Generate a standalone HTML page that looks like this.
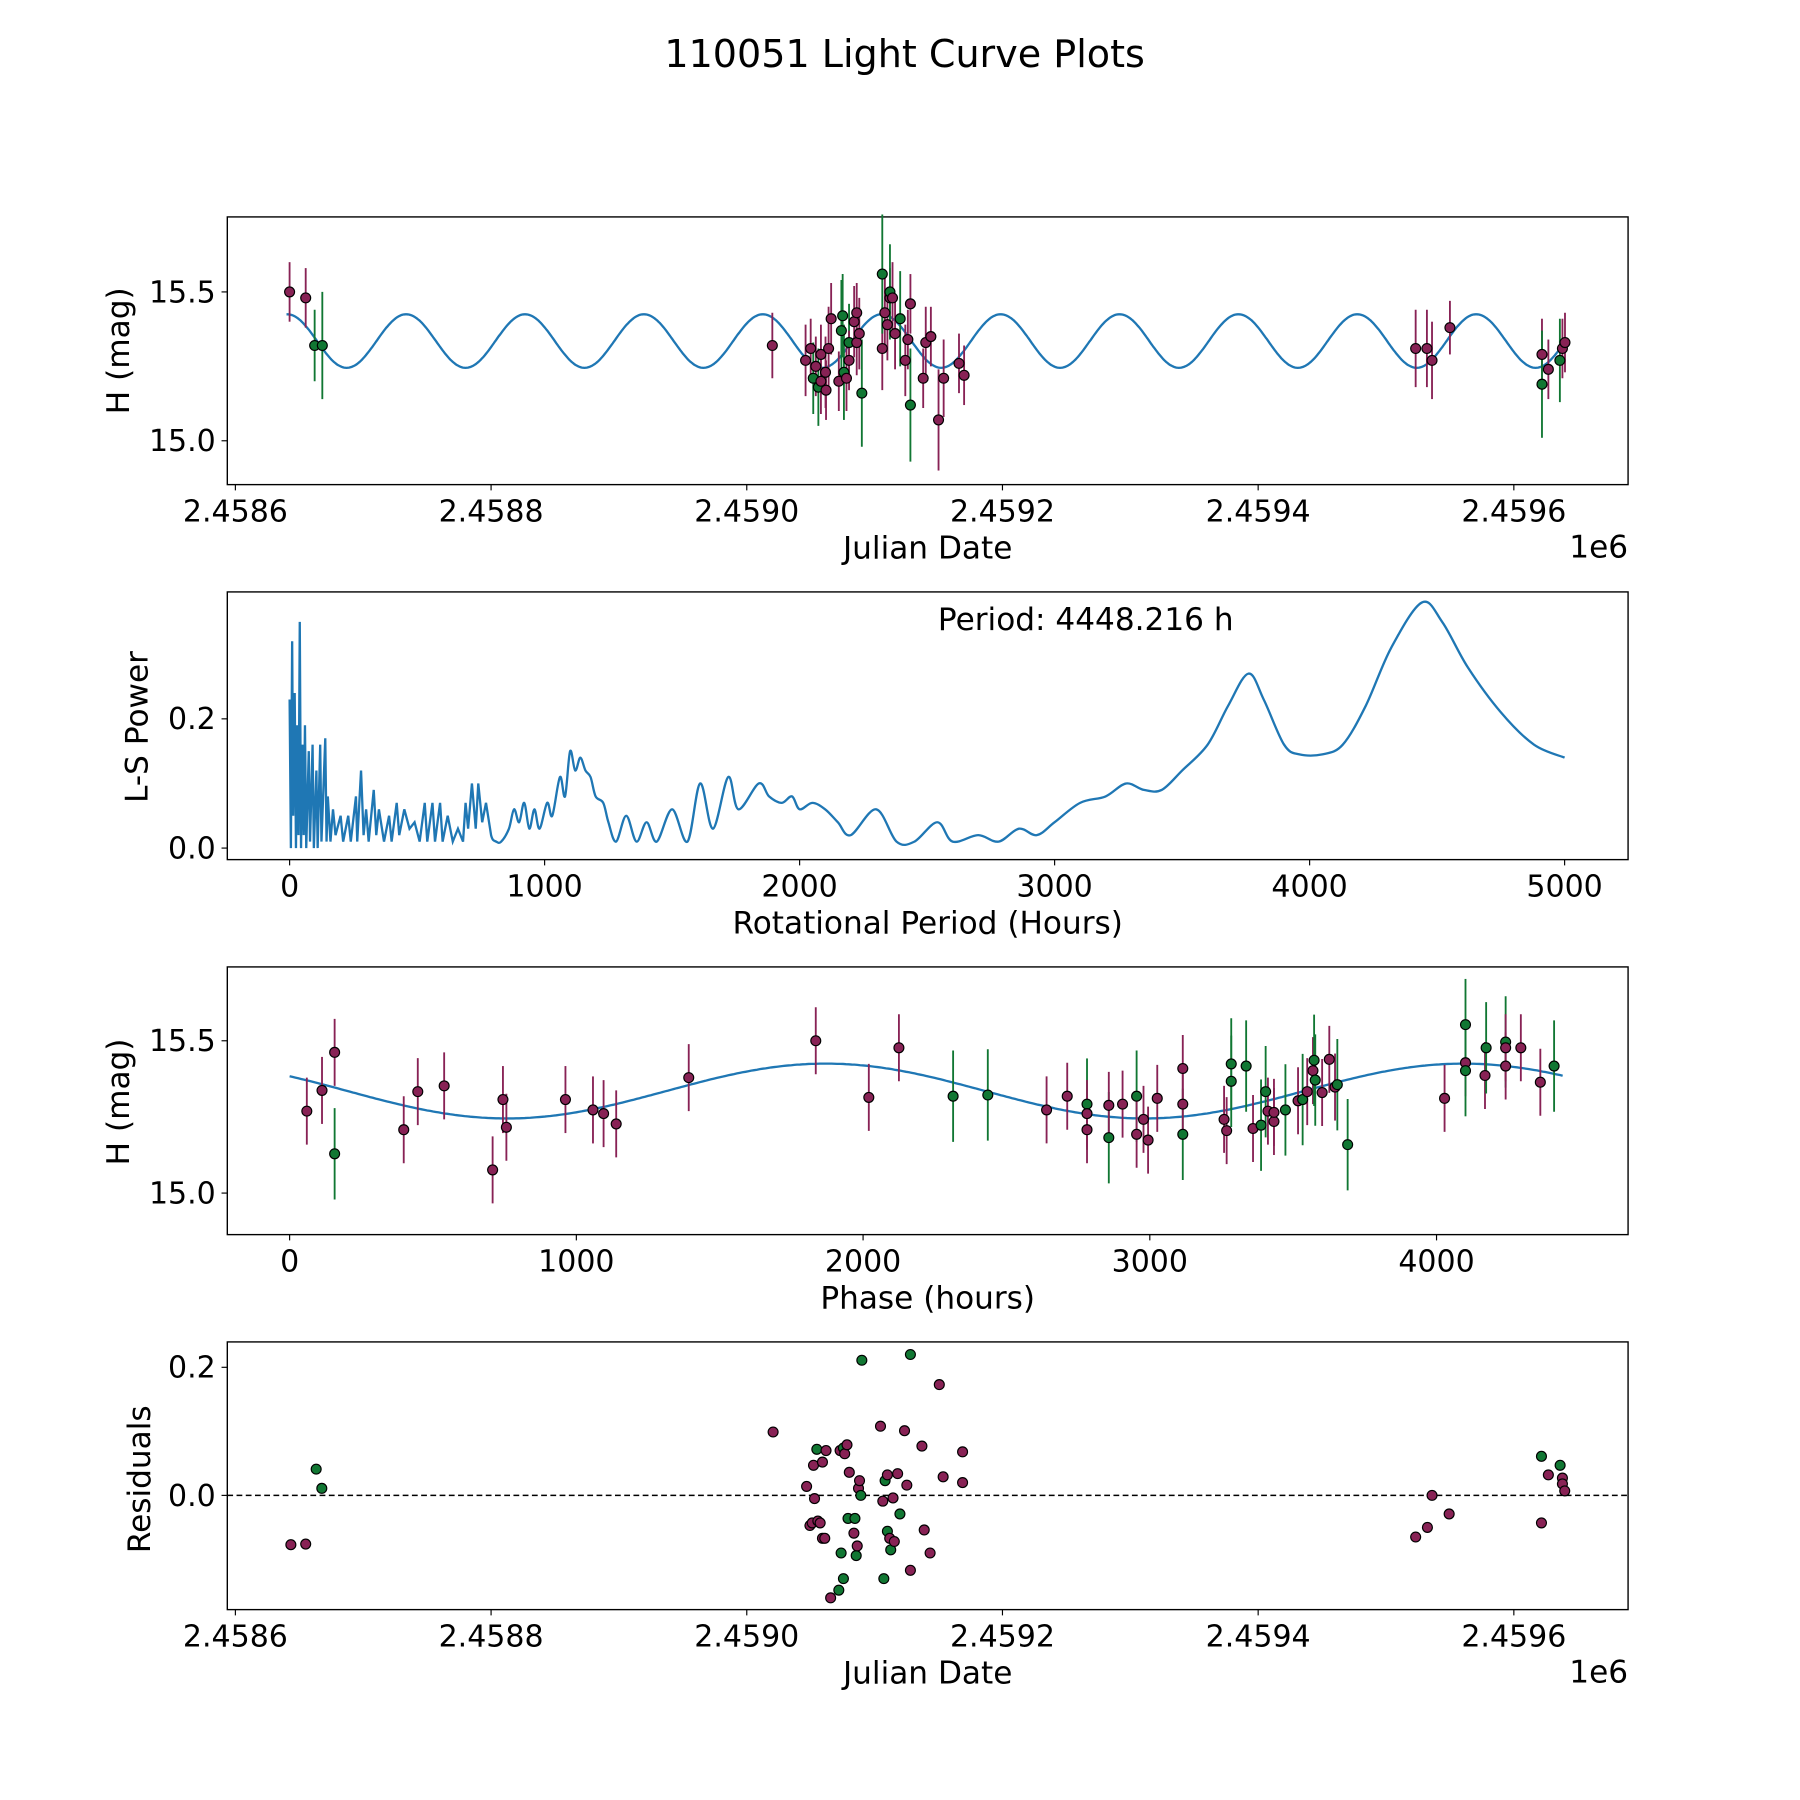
<!DOCTYPE html>
<html><head><meta charset="utf-8"><style>
html,body{margin:0;padding:0;background:#fff;}
svg{display:block;font-family:"DejaVu Sans","Liberation Sans",sans-serif;}
</style></head><body>
<svg id="fig" width="1800" height="1800" viewBox="0 0 1560 1560" xmlns="http://www.w3.org/2000/svg">
<rect width="1560" height="1560" fill="#fff"/>
<text x="784" y="58" font-size="33" text-anchor="middle">110051 Light Curve Plots</text>
<g id="p1"></g><g id="p2"></g><g id="p3"></g><g id="p4"></g>
</svg>
<script>
// ---- Panel 1 / 4 data: days offset from JD 2458600 ----
const lcDay=[42.4,55,62,68,420,446,450,452,454,456,458,458,461.6,462,464,466,472,474,475,476,478,480,480,484,486,486,488,490,506,506,508,510,512,512,514,516,520,524,526,528,528,538,540,544,550,554,566,570,923.2,932,936,950,1022,1022,1027,1036,1038,1040];
const lcMag=[15.50,15.48,15.32,15.32,15.32,15.27,15.31,15.21,15.25,15.18,15.29,15.20,15.23,15.17,15.31,15.41,15.20,15.37,15.42,15.23,15.21,15.33,15.27,15.40,15.33,15.43,15.36,15.16,15.31,15.56,15.43,15.39,15.48,15.50,15.48,15.36,15.41,15.27,15.34,15.46,15.12,15.21,15.33,15.35,15.07,15.21,15.26,15.22,15.31,15.31,15.27,15.38,15.29,15.19,15.24,15.27,15.31,15.33];
const lcErr=[0.1,0.1,0.12,0.18,0.11,0.12,0.1,0.12,0.1,0.13,0.1,0.11,0.12,0.1,0.14,0.12,0.1,0.17,0.14,0.16,0.11,0.13,0.1,0.12,0.11,0.1,0.12,0.18,0.14,0.2,0.12,0.12,0.1,0.16,0.12,0.12,0.16,0.12,0.1,0.1,0.19,0.1,0.12,0.1,0.17,0.13,0.1,0.1,0.13,0.13,0.13,0.09,0.12,0.18,0.1,0.14,0.1,0.1];
const lcBand=["r","r","g","g","r","r","r","g","r","g","r","r","r","r","r","r","r","g","g","g","r","g","r","r","r","r","r","g","r","g","r","r","r","g","r","r","g","r","r","r","g","r","r","r","r","r","r","r","r","r","r","r","r","g","r","g","r","r"];
// residuals
const resDay=[43.4,55,63.2,67.6,420.6,446.8,449.4,451.2,452.2,453,454.8,455.6,457.4,459.2,459.2,461,462,465.6,472,473,473.8,475.6,475.6,476.6,478.4,479.2,480.2,483.8,484.6,485.6,486.4,487.4,488.2,489.2,490,504.6,506.4,507.2,508.2,510,510,511.8,512.6,514.4,515.4,518,519.8,523.4,525.2,528,528,537,538.8,543.4,550.6,553.6,568.8,568.8,923.2,932.4,936,949.4,1021.6,1021.6,1027,1036.2,1038,1038,1039.8];
const resVal=[-0.077,-0.076,0.041,0.011,0.099,0.014,-0.047,-0.043,0.047,-0.005,0.072,-0.040,-0.043,0.052,-0.067,-0.067,0.070,-0.160,-0.148,0.070,-0.090,-0.130,0.074,0.065,0.079,-0.036,0.036,-0.059,-0.036,-0.094,-0.079,0.011,0.023,0.000,0.211,0.108,-0.009,-0.130,0.023,-0.056,0.032,-0.067,-0.085,-0.004,-0.072,0.034,-0.029,0.101,0.016,0.220,-0.117,0.077,-0.054,-0.090,0.173,0.029,0.068,0.020,-0.065,-0.050,0.000,-0.029,0.061,-0.043,0.032,0.047,0.027,0.018,0.007];
const resBand=["r","r","g","g","r","r","r","r","r","r","g","r","r","r","r","r","r","r","g","r","g","g","g","r","r","g","r","r","g","g","r","r","r","g","g","r","r","g","g","g","r","r","g","r","r","r","g","r","r","g","r","r","r","r","r","r","r","r","r","r","r","r","g","r","r","g","r","r","r"];
// ---- Panel 2: periodogram ----
const lsPeriod=[0,5,10,14,20,25,30,35,40,45,50,55,60,65,75,80,90,95,105,110,120,125,140,145,150,160,170,180,200,210,230,240,260,265,280,290,300,310,330,340,350,370,390,400,420,430,450,470,490,510,530,540,560,570,590,600,620,640,660,680,690,700,715,730,740,755,770,790,810,830,860,880,900,920,940,960,980,1010,1030,1060,1080,1100,1120,1140,1160,1180,1200,1230,1250,1280,1320,1360,1400,1440,1500,1560,1610,1660,1720,1760,1840,1880,1930,1970,2000,2050,2100,2150,2200,2300,2380,2450,2540,2600,2700,2780,2860,2930,3000,3100,3200,3280,3350,3420,3500,3600,3680,3760,3820,3900,3960,4050,4130,4220,4320,4440,4520,4620,4750,4880,5000];
const lsPower=[0.23,0,0.32,0.05,0.24,0,0.19,0.02,0.35,0,0.16,0.02,0.19,0,0.15,0.01,0.16,0,0.12,0,0.16,0.01,0.17,0.01,0.08,0.01,0.06,0.02,0.05,0.01,0.05,0.01,0.08,0.01,0.12,0.02,0.06,0.01,0.09,0.02,0.06,0.01,0.05,0.01,0.07,0.02,0.06,0.03,0.04,0.01,0.07,0.01,0.07,0.01,0.07,0.01,0.05,0.01,0.03,0.01,0.07,0.03,0.1,0.03,0.1,0.04,0.07,0.02,0.01,0.01,0.03,0.06,0.04,0.07,0.03,0.06,0.03,0.07,0.05,0.11,0.08,0.15,0.12,0.14,0.12,0.11,0.08,0.07,0.04,0.01,0.05,0.01,0.04,0.01,0.06,0.01,0.1,0.03,0.11,0.06,0.1,0.08,0.07,0.08,0.06,0.07,0.06,0.04,0.02,0.06,0.01,0.01,0.04,0.01,0.02,0.01,0.03,0.02,0.04,0.07,0.08,0.1,0.09,0.09,0.12,0.16,0.22,0.27,0.23,0.16,0.145,0.145,0.16,0.22,0.31,0.38,0.35,0.28,0.21,0.16,0.14];
// ---- Panel 3: phased ----
const phHours=[60,113,157,157,398,447,539,708,744,756,962,1058,1095,1139,1392,1835,2020,2125,2314,2435,2640,2712,2781,2781,2781,2857,2857,2905,2954,2954,2978,2994,3026,3115,3115,3115,3259,3268,3284,3284,3336,3360,3388,3404,3412,3433,3433,3473,3517,3533,3549,3569,3573,3577,3601,3626,3646,3654,3690,4028,4101,4101,4101,4169,4173,4241,4241,4241,4294,4362,4410];
const phMag=[15.269,15.337,15.462,15.129,15.208,15.333,15.352,15.076,15.307,15.216,15.307,15.273,15.261,15.227,15.379,15.500,15.314,15.477,15.318,15.322,15.273,15.318,15.292,15.261,15.208,15.182,15.288,15.292,15.318,15.193,15.242,15.174,15.311,15.193,15.409,15.292,15.242,15.205,15.424,15.367,15.417,15.212,15.223,15.333,15.269,15.235,15.265,15.273,15.303,15.307,15.333,15.402,15.436,15.371,15.330,15.439,15.348,15.356,15.159,15.311,15.428,15.402,15.553,15.386,15.477,15.496,15.417,15.477,15.477,15.364,15.417];
const phBand=["r","r","r","g","r","r","r","r","r","r","r","r","r","r","r","r","r","r","g","g","r","r","g","r","r","g","r","r","g","r","r","r","r","g","r","r","r","r","g","g","g","r","g","g","r","r","r","g","r","g","r","r","g","g","r","r","r","g","g","r","r","g","g","r","g","g","r","r","r","r","g"];
const xTicksJD=["2.4586","2.4588","2.4590","2.4592","2.4594","2.4596"];
const xTicksP=["0","1000","2000","3000","4000","5000"];
const xTicksPh=["0","1000","2000","3000","4000"];

const NS="http://www.w3.org/2000/svg";
const COL={r:"#882255",g:"#117733"};
function mk(parent,tag,attrs){const e=document.createElementNS(NS,tag);for(const k in attrs)e.setAttribute(k,attrs[k]);parent.appendChild(e);return e;}
function lin(d0,d1,p0,p1){return v=>p0+(v-d0)*(p1-p0)/(d1-d0);}
function frame(g,top,name){
  const f=mk(g,'rect',{x:197,y:top,width:1214,height:232,fill:'none',stroke:'#000','stroke-width':1.2});
  
  
}
function xtick(g,x,bot,label){
  mk(g,'line',{x1:x,x2:x,y1:bot,y2:bot+5,stroke:'#000','stroke-width':1});
  const t=mk(g,'text',{x:x,y:bot+32,'font-size':26,'text-anchor':'middle'});t.textContent=label;
  
  
}
function ytick(g,y,label){
  mk(g,'line',{x1:192,x2:197,y1:y,y2:y,stroke:'#000','stroke-width':1});
  const t=mk(g,'text',{x:187,y:y+9,'font-size':26,'text-anchor':'end'});t.textContent=label;
  
  
}
function label(g,x,y,txt,rot,name){
  const t=mk(g,'text',{x:x,y:y,'font-size':27,'text-anchor':'middle'});
  if(rot)t.setAttribute('transform','rotate(-90 '+x+' '+y+')');
  t.textContent=txt;
  
  
}
function point(g,x,y,c){
  const p=mk(g,'circle',{cx:x,cy:y,r:4.3,fill:c,stroke:'#000','stroke-width':1});
  
  
}
function errbar(g,x,y1,y2,c){
  const l=mk(g,'line',{x1:x,x2:x,y1:y1,y2:y2,stroke:c,'stroke-width':1.6});
  
  
}

// Panel 1
(function(){
  const g=document.getElementById('p1');
  const X=lin(0,200,204,425.6), Y=lin(15.0,15.5,382,253);
  frame(g,188,'light-curve-panel');
  let d='';
  for(let t=40;t<=1042;t+=1){const m=15.335+0.09*Math.cos(2*Math.PI*(t-133.6)/93);d+=(d?'L':'M')+X(t).toFixed(1)+' '+Y(m).toFixed(1);}
  const c=mk(g,'path',{d:d,fill:'none',stroke:'#1f77b4','stroke-width':2});
  
  
  lcDay.forEach((t,i)=>errbar(g,X(t),Y(lcMag[i]-lcErr[i]),Y(lcMag[i]+lcErr[i]),COL[lcBand[i]]));
  lcDay.forEach((t,i)=>point(g,X(t),Y(lcMag[i]),COL[lcBand[i]]));
  xTicksJD.forEach((s,i)=>xtick(g,X(i*200),420,s));
  ytick(g,Y(15.5),'15.5');ytick(g,Y(15.0),'15.0');
  label(g,804,484,'Julian Date',false,'x-axis-title');
  label(g,112,304,'H (mag)',true,'y-axis-title');
  const o=mk(g,'text',{x:1411,y:483,'font-size':27,'text-anchor':'end'});o.textContent='1e6';
  
  
})();
// Panel 2
(function(){
  const g=document.getElementById('p2');
  const X=lin(0,5000,251,1356), Y=lin(0,0.2,735,623);
  frame(g,513,'periodogram-panel');
  const pts=lsPeriod.map((p,i)=>[X(p),Y(lsPower[i])]);
  let d='M'+pts[0][0].toFixed(1)+' '+pts[0][1].toFixed(1);
  for(let i=1;i<pts.length;i++){
    if(lsPeriod[i]<800){d+='L'+pts[i][0].toFixed(1)+' '+pts[i][1].toFixed(1);continue;}
    const p0=pts[i-2]||pts[i-1],p1=pts[i-1],p2=pts[i],p3=pts[i+1]||pts[i];
    const c1=[p1[0]+(p2[0]-p0[0])/6,p1[1]+(p2[1]-p0[1])/6],c2=[p2[0]-(p3[0]-p1[0])/6,p2[1]-(p3[1]-p1[1])/6];
    d+='C'+c1[0].toFixed(1)+' '+c1[1].toFixed(1)+' '+c2[0].toFixed(1)+' '+c2[1].toFixed(1)+' '+p2[0].toFixed(1)+' '+p2[1].toFixed(1);
  }
  const c=mk(g,'path',{d:d,fill:'none',stroke:'#1f77b4','stroke-width':2});
  
  
  xTicksP.forEach((s,i)=>xtick(g,X(i*1000),745,s));
  ytick(g,Y(0),'0.0');ytick(g,Y(0.2),'0.2');
  label(g,804,809,'Rotational Period (Hours)',false,'x-axis-title');
  label(g,128,630,'L-S Power',true,'y-axis-title');
  const a=mk(g,'text',{x:941,y:546,'font-size':27,'text-anchor':'middle'});a.textContent='Period: 4448.216 h';
  
  
})();
// Panel 3
(function(){
  const g=document.getElementById('p3');
  const X=lin(0,4000,251,1245), Y=lin(15.0,15.5,1034,902);
  frame(g,838,'phase-panel');
  let d='';
  for(let h=0;h<=4448;h+=10){const m=15.335+0.09*Math.cos(2*Math.PI*(h-1870)/2224);d+=(d?'L':'M')+X(h).toFixed(1)+' '+Y(m).toFixed(1);}
  const c=mk(g,'path',{d:d,fill:'none',stroke:'#1f77b4','stroke-width':2});
  
  
  phHours.forEach((h,i)=>{const e=phBand[i]=='g'?0.15:0.11;errbar(g,X(h),Y(phMag[i]-e),Y(phMag[i]+e),COL[phBand[i]]);});
  phHours.forEach((h,i)=>point(g,X(h),Y(phMag[i]),COL[phBand[i]]));
  xTicksPh.forEach((s,i)=>xtick(g,X(i*1000),1070,s));
  ytick(g,Y(15.5),'15.5');ytick(g,Y(15.0),'15.0');
  label(g,804,1134,'Phase (hours)',false,'x-axis-title');
  label(g,112,955,'H (mag)',true,'y-axis-title');
})();
// Panel 4
(function(){
  const g=document.getElementById('p4');
  const X=lin(0,200,204,425.6), Y=lin(0,0.2,1296,1185);
  frame(g,1163,'residuals-panel');
  const z=mk(g,'line',{x1:197,x2:1411,y1:Y(0),y2:Y(0),stroke:'#000','stroke-width':1.3,'stroke-dasharray':'5,3'});
  
  
  resDay.forEach((t,i)=>point(g,X(t),Y(resVal[i]),COL[resBand[i]]));
  xTicksJD.forEach((s,i)=>xtick(g,X(i*200),1395,s));
  ytick(g,Y(0),'0.0');ytick(g,Y(0.2),'0.2');
  label(g,804,1459,'Julian Date',false,'x-axis-title');
  label(g,130,1282,'Residuals',true,'y-axis-title');
  const o=mk(g,'text',{x:1411,y:1458,'font-size':27,'text-anchor':'end'});o.textContent='1e6';
  
  
})();
</script>
</body></html>
